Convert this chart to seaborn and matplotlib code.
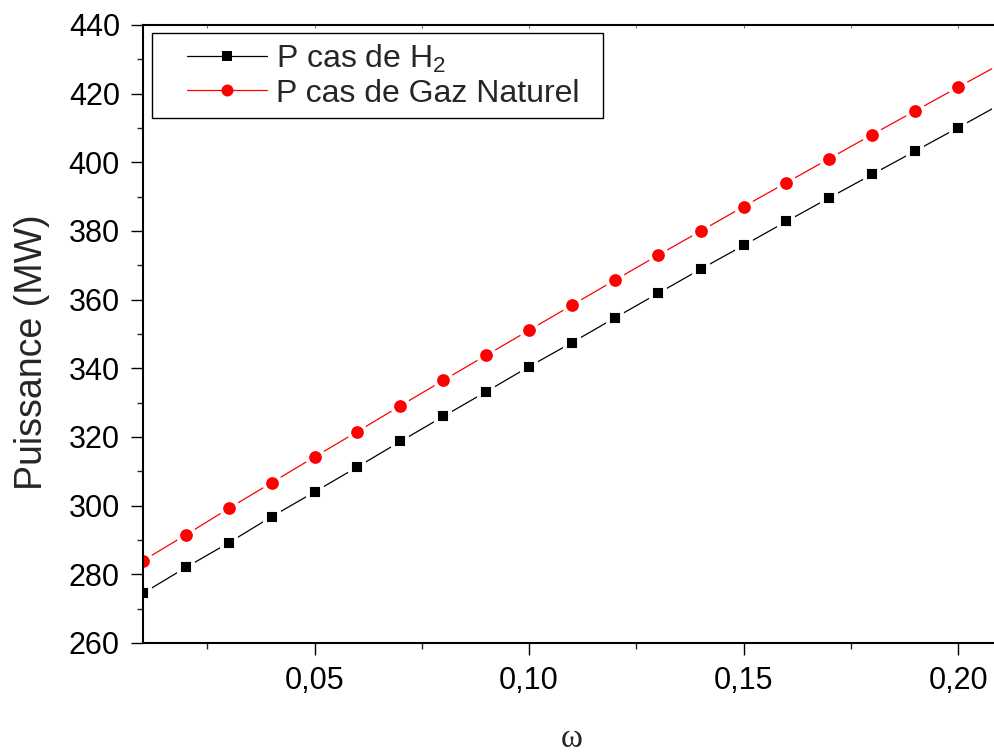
import numpy as np
import pandas as pd
import matplotlib
matplotlib.use("Agg")
import matplotlib.pyplot as plt
import seaborn as sns
from matplotlib.ticker import MultipleLocator, FuncFormatter, NullFormatter
from matplotlib.lines import Line2D
from matplotlib.legend_handler import HandlerLine2D

# valeurs
omega = [0.01, 0.02, 0.03, 0.04, 0.05, 0.06, 0.07, 0.08, 0.09, 0.10, 0.11,
         0.12, 0.13, 0.14, 0.15, 0.16, 0.17, 0.18, 0.19, 0.20, 0.21]
p_h2 = [274.5, 282.0, 289.2, 296.8, 304.0, 311.3, 318.7, 326.0, 333.2, 340.5, 347.5,
        354.7, 361.8, 368.9, 375.8, 382.8, 389.7, 396.5, 403.3, 410.1, 417.0]
p_gn = [284.0, 291.5, 299.2, 306.7, 314.2, 321.6, 329.1, 336.5, 343.8, 351.1, 358.4,
        365.7, 372.9, 380.0, 387.1, 394.1, 401.1, 408.1, 415.0, 421.9, 428.7]
labels = ["P cas de H$_2$", "P cas de Gaz Naturel"]

df = pd.concat([
    pd.DataFrame({"omega": omega, "P": p_h2, "serie": labels[0]}),
    pd.DataFrame({"omega": omega, "P": p_gn, "serie": labels[1]}),
])

sns.set_style("ticks")
plt.rcParams["font.family"] = ["Liberation Sans", "DejaVu Sans"]
plt.rcParams["mathtext.fontset"] = "custom"
plt.rcParams["mathtext.rm"] = "Liberation Sans"
plt.rcParams["mathtext.it"] = "Liberation Sans"

fig = plt.figure(figsize=(9.95, 7.53), dpi=100)
ax = fig.add_axes([143 / 995, 110 / 753, 858 / 995, 618 / 753])

sns.lineplot(data=df, x="omega", y="P", hue="serie", style="serie",
             palette={labels[0]: "black", labels[1]: "red"},
             markers={labels[0]: "s", labels[1]: "o"}, dashes=False,
             linewidth=0.9, markersize=10.5, markeredgewidth=2.8,
             markeredgecolor="white", ax=ax)

# cercles un peu plus grands que les carres
for ln in ax.lines:
    if ln.get_marker() == "o":
        ln.set_markersize(12)

ax.set_xlim(0.01, 0.21)
ax.set_ylim(260, 440)
ax.xaxis.set_major_locator(MultipleLocator(0.05))
ax.xaxis.set_minor_locator(MultipleLocator(0.025))
ax.yaxis.set_major_locator(MultipleLocator(20))
ax.yaxis.set_minor_locator(MultipleLocator(10))
ax.xaxis.set_major_formatter(FuncFormatter(lambda v, p: f"{v:.2f}".replace(".", ",")))
ax.yaxis.set_major_formatter(FuncFormatter(lambda v, p: f"{v:.0f}"))

for s in ["left", "bottom", "top"]:
    ax.spines[s].set_linewidth(1.5)
    ax.spines[s].set_color("black")
ax.spines["right"].set_visible(False)

ax.tick_params(which="major", length=8.6, width=1.0, labelsize=22, pad=8,
               direction="out", colors="black")
ax.tick_params(which="minor", length=4.3, width=1.0, direction="out")
ax.tick_params(axis="x", which="both", top=False)
ax.tick_params(axis="y", which="both", right=False)

# petits tirets vers l'interieur sur l'axe du haut
top = ax.secondary_xaxis("top")
top.xaxis.set_major_locator(MultipleLocator(0.05))
top.xaxis.set_minor_locator(MultipleLocator(0.025))
top.xaxis.set_major_formatter(NullFormatter())
top.tick_params(which="both", direction="in", length=2.5, width=0.6, colors="#555555")
top.spines["top"].set_visible(False)

ax.set_ylabel("Puissance (MW)", fontsize=27)
ax.yaxis.set_label_coords(-0.108, 0.471)
ax.set_xlabel("\u03c9", fontsize=24, family=["Liberation Serif", "DejaVu Serif"], labelpad=20)

leg = ax.legend(loc="upper left", bbox_to_anchor=(0.0105, 0.80, 0.5256, 0.187),
                mode="expand", fontsize=23,
                frameon=True, fancybox=False, edgecolor="black", framealpha=1,
                handlelength=3.3, handletextpad=0.28, borderpad=0.3,
                labelspacing=0.12, borderaxespad=0,
                handler_map={Line2D: HandlerLine2D(xpad=0.8)})
leg.get_frame().set_linewidth(1.0)
for h in leg.legend_handles:
    h.set_markeredgewidth(0)
    h.set_markersize(8.6 if h.get_marker() == "o" else 7.8)

fig.savefig("out.png", dpi=100)
